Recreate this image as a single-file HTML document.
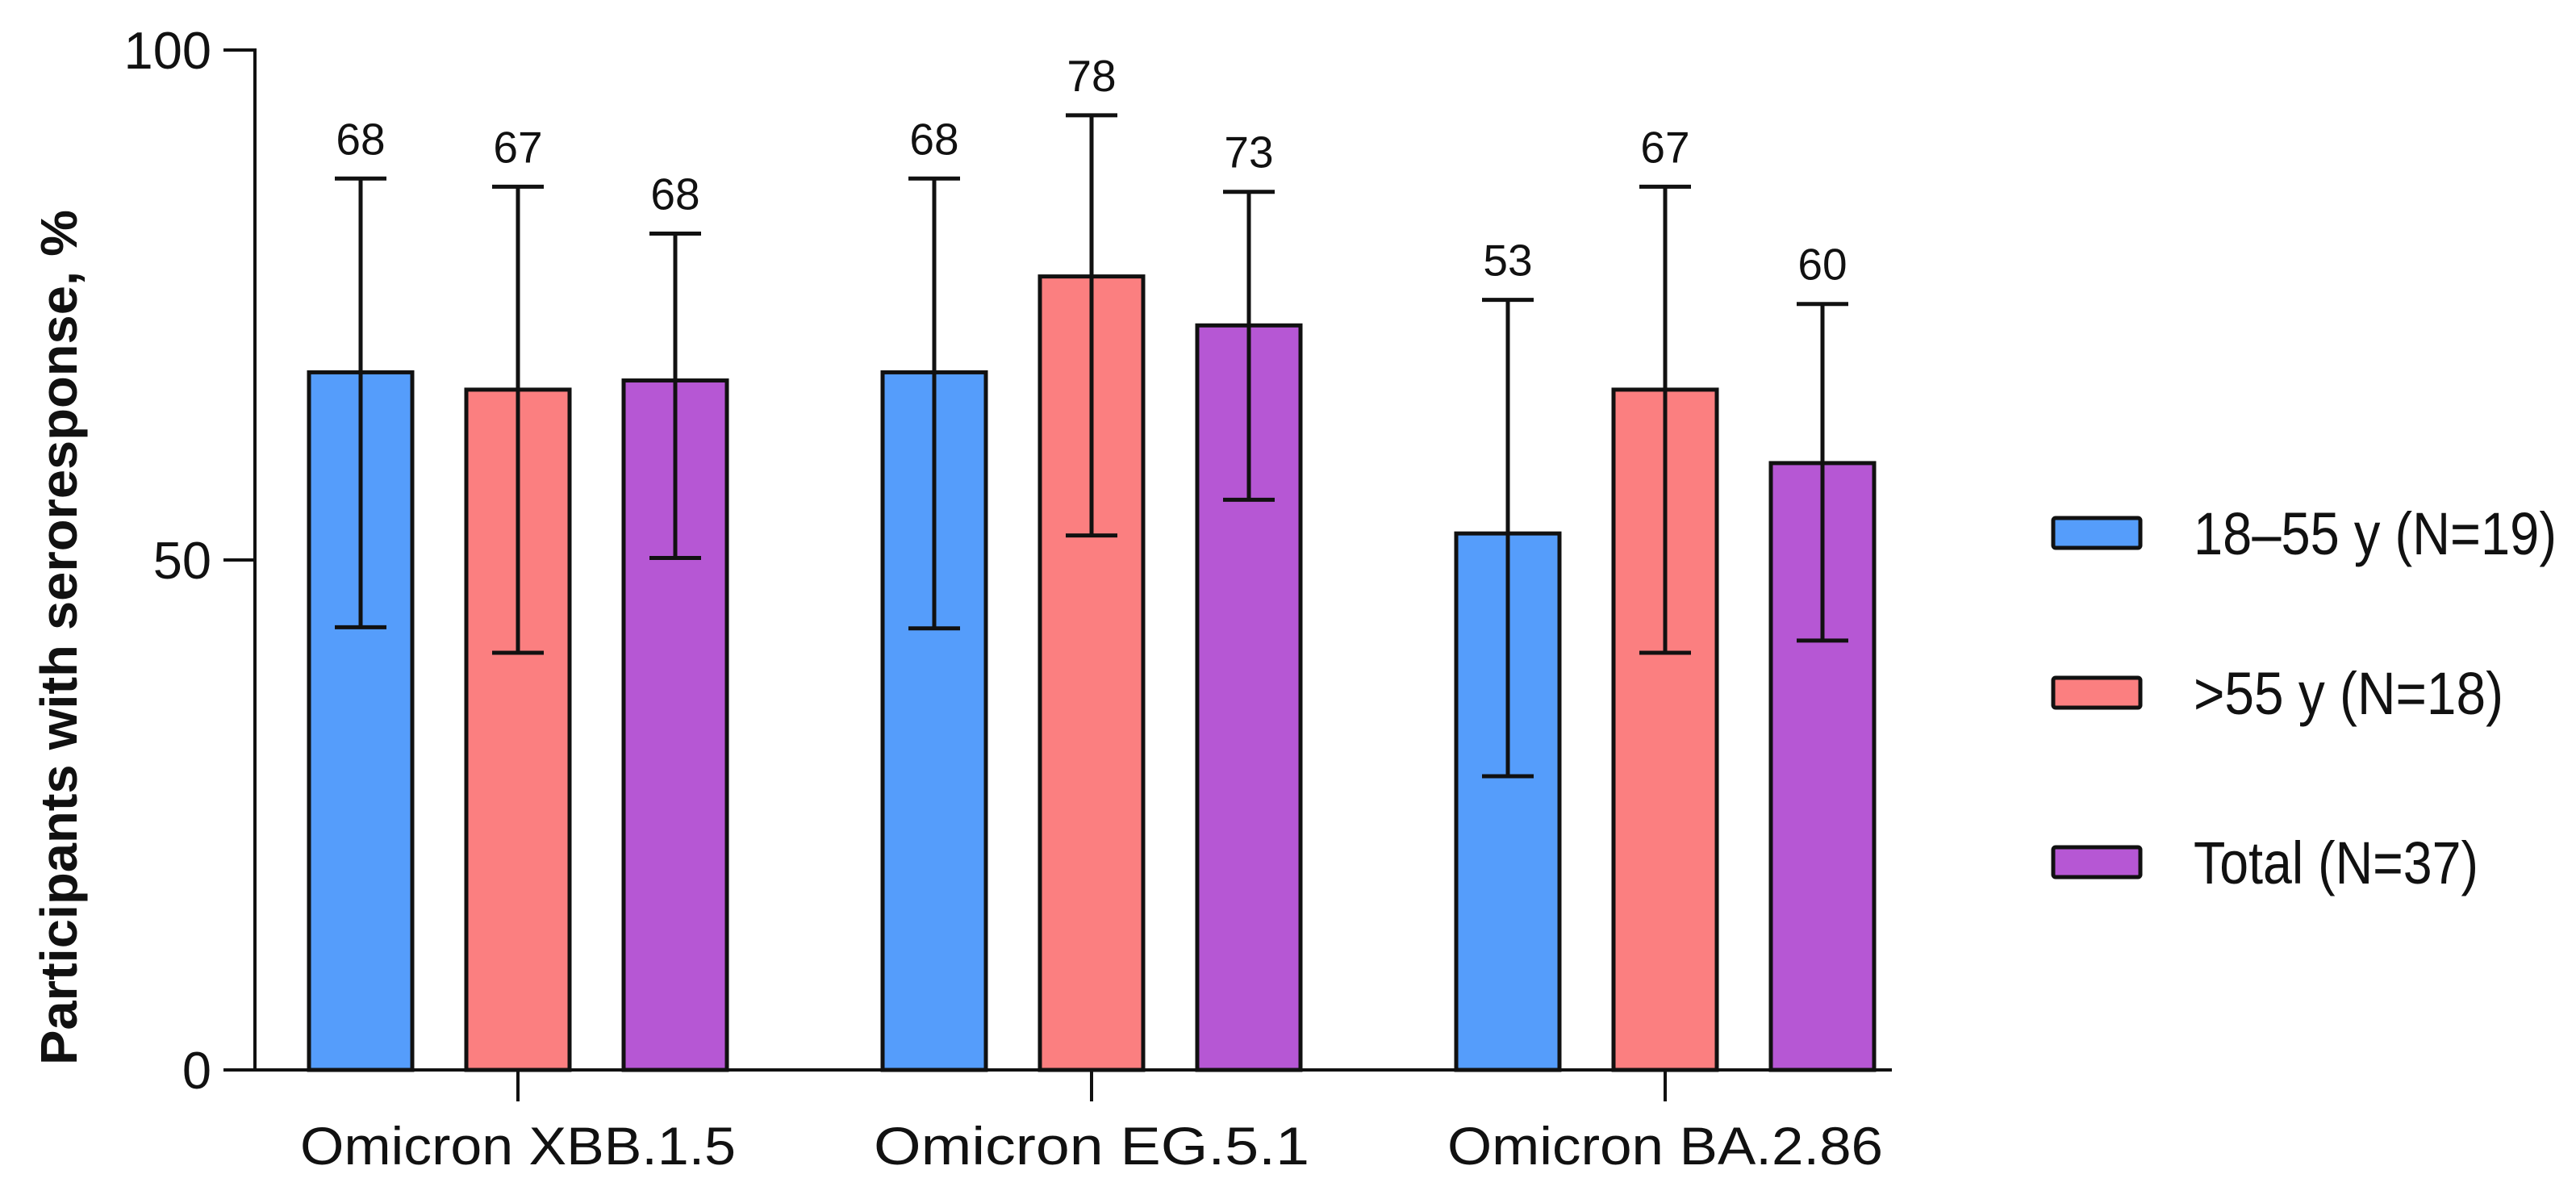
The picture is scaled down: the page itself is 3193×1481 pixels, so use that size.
<!DOCTYPE html>
<html><head><meta charset="utf-8"><style>
html,body{margin:0;padding:0;background:#fff;}
svg{display:block;font-family:"Liberation Sans",Arial,sans-serif;}
</style></head><body>
<svg id="chart" width="3193" height="1481" viewBox="0 0 3193 1481" xmlns="http://www.w3.org/2000/svg"></svg>
<script>
const categories = ["Omicron XBB.1.5", "Omicron EG.5.1", "Omicron BA.2.86"];
const seriesNames = ["18–55 y (N=19)", ">55 y (N=18)", "Total (N=37)"];
const seriesColors = ["#559dfb", "#fb7f80", "#b657d4"];
const valuesYoung = [68.4, 68.4, 52.6];
const valuesOld = [66.7, 77.8, 66.7];
const valuesTotal = [67.6, 73.0, 59.5];
const upperYoung = [87.4, 87.4, 75.5];
const upperOld = [86.6, 93.6, 86.6];
const upperTotal = [82.0, 86.1, 75.1];
const lowerYoung = [43.4, 43.3, 28.8];
const lowerOld = [40.9, 52.4, 40.9];
const lowerTotal = [50.2, 55.9, 42.1];
const labelsYoung = ["68", "68", "53"];
const labelsOld = ["67", "78", "67"];
const labelsTotal = ["68", "73", "60"];
const yTicks = [0, 50, 100];

const svg = document.getElementById('chart');
const NS = 'http://www.w3.org/2000/svg';
const y = v => 1326 - v * 12.64;
const xc = i => 642 + i * 711;
const barW = 128, pitch = 195;
function mk(tag, attrs, parent) {
  const e = document.createElementNS(NS, tag);
  for (const k in attrs) e.setAttribute(k, attrs[k]);
  (parent || svg).appendChild(e);
  return e;
}
const values = [valuesYoung, valuesOld, valuesTotal];
const uppers = [upperYoung, upperOld, upperTotal];
const lowers = [lowerYoung, lowerOld, lowerTotal];
const labels = [labelsYoung, labelsOld, labelsTotal];

categories.forEach((c, i) => {
  for (let s = 0; s < 3; s++) {
    const cx = xc(i) + (s - 1) * pitch;
    const v = values[s][i];
    const r = mk('rect', {x: cx - barW/2, y: y(v), width: barW, height: y(0) - y(v), fill: seriesColors[s], stroke: '#111', 'stroke-width': 5});
    
    
    const g = mk('g', {stroke: '#111', 'stroke-width': 5});
    
    
    mk('line', {x1: cx, x2: cx, y1: y(uppers[s][i]), y2: y(lowers[s][i])}, g);
    mk('line', {x1: cx - 32, x2: cx + 32, y1: y(uppers[s][i]), y2: y(uppers[s][i])}, g);
    mk('line', {x1: cx - 32, x2: cx + 32, y1: y(lowers[s][i]), y2: y(lowers[s][i])}, g);
    const t = mk('text', {x: cx, y: y(uppers[s][i]) - 30, 'text-anchor': 'middle', 'font-size': 55, fill: '#111'});
    t.textContent = labels[s][i];
    
    
  }
  const tk = mk('line', {x1: xc(i), x2: xc(i), y1: 1326, y2: 1365, stroke: '#111', 'stroke-width': 4});
  
  
  const lt = mk('text', {x: xc(i), y: 1443, 'text-anchor': 'middle', 'font-size': 66, fill: '#111', textLength: 540, lengthAdjust: 'spacingAndGlyphs'});
  lt.textContent = c;
  
  
});

const xa = mk('line', {x1: 316, x2: 2345, y1: 1326, y2: 1326, stroke: '#111', 'stroke-width': 4});


const ya = mk('line', {x1: 316, x2: 316, y1: y(100) - 2, y2: 1328, stroke: '#111', 'stroke-width': 4});


yTicks.forEach(v => {
  const l = mk('line', {x1: 277, x2: 316, y1: y(v), y2: y(v), stroke: '#111', 'stroke-width': 4});
  
  
  const t = mk('text', {x: 262, y: y(v) + 23, 'text-anchor': 'end', 'font-size': 65, fill: '#111'});
  t.textContent = String(v);
  
  
});
const yt = mk('text', {x: 0, y: 0, transform: 'translate(95,790) rotate(-90)', 'text-anchor': 'middle', 'font-size': 64, 'font-weight': 'bold', fill: '#111', textLength: 1060, lengthAdjust: 'spacingAndGlyphs'});
yt.textContent = 'Participants with seroresponse, %';



const legY = [660, 858, 1068];
const legW = [450, 384, 353];
seriesNames.forEach((n, s) => {
  const r = mk('rect', {x: 2545, y: legY[s] - 18, width: 108, height: 37, fill: seriesColors[s], stroke: '#111', 'stroke-width': 5, rx: 3});
  
  
  const t = mk('text', {x: 2719, y: legY[s] + 27, 'font-size': 74, fill: '#111', textLength: legW[s], lengthAdjust: 'spacingAndGlyphs'});
  t.textContent = n;
  
  
});
</script>
</body></html>
